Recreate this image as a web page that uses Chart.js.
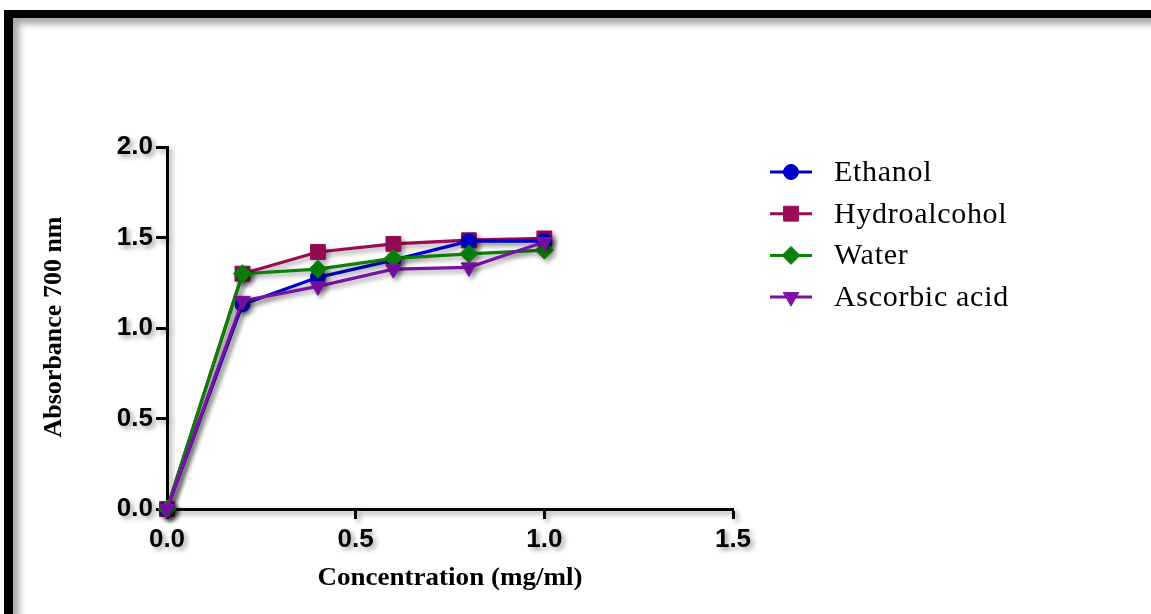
<!DOCTYPE html>
<html>
<head>
<meta charset="utf-8">
<script src="https://cdn.jsdelivr.net/npm/chart.js@4.4.1/dist/chart.umd.min.js"></script>
<style>
  html, body { margin: 0; padding: 0; background: #fff; }
  #wrap { position: relative; width: 1151px; height: 614px; overflow: hidden; background: #fff; }
  #frame {
    position: absolute; left: 4px; top: 10px; width: 1160px; height: 620px;
    border-top: 8px solid #000; border-left: 9px solid #000;
    box-shadow: inset 6px 6px 7px rgba(0,0,0,0.35);
    pointer-events: none;
  }
  canvas { position: absolute; left: 0; top: 0; }
</style>
</head>
<body>
<div id="wrap">
  <canvas id="chart" width="1151" height="614"></canvas>
  <div id="frame"></div>
</div>
<script>
// Concentrations (mg/ml) and absorbance at 700 nm for each extract
const concentrations = [0, 0.2, 0.4, 0.6, 0.8, 1.0];
const ethanol      = [0, 1.13, 1.28, 1.375, 1.48, 1.48];
const hydroalcohol = [0, 1.30, 1.42, 1.465, 1.485, 1.495];
const water        = [0, 1.30, 1.325, 1.385, 1.41, 1.43];
const ascorbicAcid = [0, 1.15, 1.23, 1.325, 1.335, 1.475];

const seriesNames = ['Ethanol', 'Hydroalcohol', 'Water', 'Ascorbic acid'];
const xTicks = [0, 0.5, 1.0, 1.5];
const yTicks = [0, 0.5, 1.0, 1.5, 2.0];

const toPoints = vals => vals.map((v, i) => ({ x: concentrations[i], y: v }));

const SHADOW = 'rgba(0,0,0,0.38)';

// Soft drop shadow applied to everything drawn on the canvas
const shadowPlugin = {
  id: 'dropShadow',
  beforeDraw(chart) {
    const ctx = chart.ctx;
    ctx.shadowColor = SHADOW;
    ctx.shadowOffsetX = 3;
    ctx.shadowOffsetY = 3;
    ctx.shadowBlur = 5;
  },
  afterDraw(chart) {
    const ctx = chart.ctx;
    ctx.shadowColor = 'rgba(0,0,0,0)';
    ctx.shadowOffsetX = 0;
    ctx.shadowOffsetY = 0;
    ctx.shadowBlur = 0;
  }
};

// Axis titles and the line+marker legend
const annotatePlugin = {
  id: 'annotate',
  afterDraw(chart) {
    const ctx = chart.ctx;
    const area = chart.chartArea;
    ctx.save();
    ctx.fillStyle = '#000';
    ctx.textAlign = 'center';
    ctx.textBaseline = 'middle';
    ctx.font = 'bold 26px "Liberation Serif", "Times New Roman", serif';
    ctx.save();
    ctx.translate((area.left + area.right) / 2, 578);
    ctx.scale(1.04, 1);
    ctx.fillText('Concentration (mg/ml)', 0, 0);
    ctx.restore();
    ctx.translate(54, (area.top + area.bottom) / 2 - 1);
    ctx.rotate(-Math.PI / 2);
    ctx.fillText('Absorbance 700 nm', 0, 0);
    ctx.restore();

    // legend
    ctx.save();
    const x0 = 770, x1 = 812, xm = 791, xt = 834, y0 = 172, dy = 41.7;
    chart.data.datasets.forEach((ds, i) => {
      const y = y0 + i * dy;
      ctx.strokeStyle = ds.borderColor;
      ctx.lineWidth = 3;
      ctx.beginPath();
      ctx.moveTo(x0, y);
      ctx.lineTo(x1, y);
      ctx.stroke();
      ctx.fillStyle = ds.backgroundColor;
      ctx.strokeStyle = ds.borderColor;
      ctx.lineWidth = 1;
      Chart.helpers.drawPoint(ctx, {
        pointStyle: ds.pointStyle,
        rotation: ds.pointRotation || 0,
        radius: ds.pointRadius,
        borderWidth: 1
      }, xm, y);
      ctx.fillStyle = '#000';
      ctx.font = '30px "Liberation Serif", "Times New Roman", serif';
      ctx.letterSpacing = '0.7px';
      ctx.textAlign = 'left';
      ctx.textBaseline = 'middle';
      ctx.fillText(ds.label, xt, y + 1);
    });
    ctx.restore();
  }
};

const tickFont = { family: '"Liberation Sans", Arial, sans-serif', size: 26, weight: 'bold' };

new Chart(document.getElementById('chart'), {
  type: 'line',
  data: {
    datasets: [
      { label: seriesNames[0], data: toPoints(ethanol), borderColor: '#0000cc', backgroundColor: '#0000cc',
        pointStyle: 'circle', pointRadius: 7.5, order: 2 },
      { label: seriesNames[1], data: toPoints(hydroalcohol), borderColor: '#9b0a55', backgroundColor: '#9b0a55',
        pointStyle: 'rect', pointRadius: 10.5, order: 3 },
      { label: seriesNames[2], data: toPoints(water), borderColor: '#0a800a', backgroundColor: '#0a800a',
        pointStyle: 'rectRot', pointRadius: 9, order: 1 },
      { label: seriesNames[3], data: toPoints(ascorbicAcid), borderColor: '#7a10a4', backgroundColor: '#7a10a4',
        pointStyle: 'triangle', pointRotation: 180, pointRadius: 9, order: 0 }
    ]
  },
  options: {
    responsive: false,
    animation: false,
    events: [],
    clip: false,
    layout: { padding: { left: 0, top: 147, right: 418, bottom: 0 } },
    elements: {
      line: { borderWidth: 3.2, tension: 0 },
      point: { borderWidth: 1, hoverRadius: 0 }
    },
    plugins: { legend: { display: false }, tooltip: { enabled: false } },
    scales: {
      x: {
        type: 'linear', min: 0, max: 1.5,
        afterFit(scale) { scale.height = 105; },
        afterBuildTicks(scale) { scale.ticks = xTicks.map(v => ({ value: v })); },
        border: { display: true, color: '#000', width: 3 },
        grid: { display: true, drawOnChartArea: false, drawTicks: true, tickLength: 10, tickWidth: 3, tickColor: '#000' },
        ticks: { color: '#000', font: tickFont, padding: 5, callback: v => v.toFixed(1) }
      },
      y: {
        type: 'linear', min: 0, max: 2,
        afterFit(scale) { scale.width = 167; },
        afterBuildTicks(scale) { scale.ticks = yTicks.map(v => ({ value: v })); },
        border: { display: true, color: '#000', width: 3 },
        grid: { display: true, drawOnChartArea: false, drawTicks: true, tickLength: 11, tickWidth: 3, tickColor: '#000' },
        ticks: { color: '#000', font: tickFont, padding: 3, callback: v => v.toFixed(1) }
      }
    }
  },
  plugins: [shadowPlugin, annotatePlugin]
});
</script>
</body>
</html>
